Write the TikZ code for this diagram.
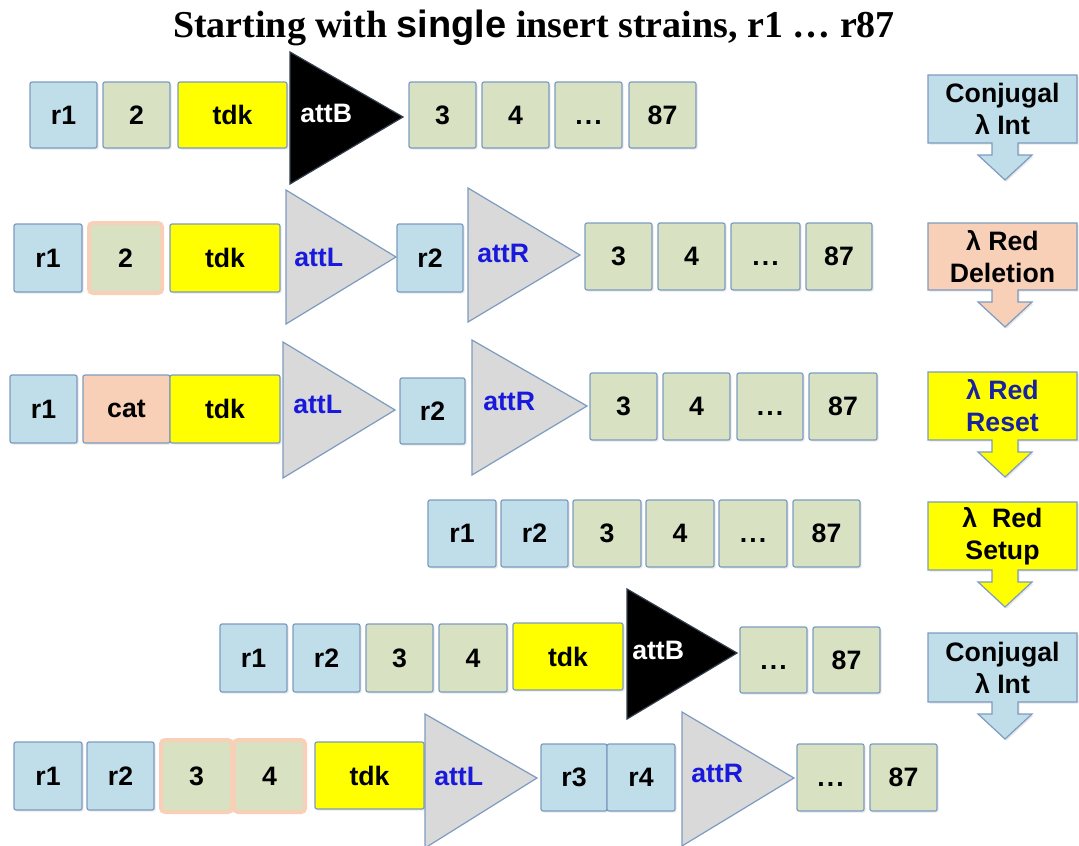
\documentclass[tikz,border=0pt]{standalone}
\usepackage{fontspec}
\setmainfont{Liberation Serif}
\newfontfamily\arialf{Liberation Sans}
\usetikzlibrary{shadows}
\definecolor{bblue}{RGB}{191,222,234}
\definecolor{bgreen}{RGB}{216,226,195}
\definecolor{byellow}{RGB}{255,255,0}
\definecolor{bpeach}{RGB}{248,208,184}
\definecolor{bedge}{RGB}{125,155,192}
\definecolor{tgray}{RGB}{217,217,217}
\definecolor{attblue}{RGB}{25,25,220}
\definecolor{resetblue}{RGB}{25,35,160}
\tikzset{
 lbl/.style={font=\arialf\fontsize{20}{24}\selectfont\bfseries},
 segbox/.style={lbl, draw=bedge, line width=0.9pt, rounded corners=1.5pt, inner sep=0pt,
   drop shadow={shadow xshift=1.2pt, shadow yshift=-1.2pt, opacity=0.18}},
 blu/.style={segbox, fill=bblue},
 grn/.style={segbox, fill=bgreen},
 yel/.style={segbox, fill=byellow},
 pch/.style={segbox, fill=bpeach},
 pgrn/.style={segbox, fill=bgreen, draw=bpeach, line width=3pt, rounded corners=3pt},
 tri/.style={draw=bedge, line width=0.9pt, fill=tgray, line join=miter},
 btri/.style={draw=bedge!40!black, line width=0.9pt, fill=black, line join=miter},
 attl/.style={lbl, text=attblue, anchor=west, inner sep=0pt},
 attw/.style={lbl, text=white, anchor=west, inner sep=0pt},
 callout/.style={draw=bedge, line width=0.9pt, line join=miter,
   drop shadow={shadow xshift=1.2pt, shadow yshift=-1.2pt, opacity=0.18}},
 ctext/.style={lbl, align=center, inner sep=0pt},
}
\newcommand\gseg[7]{\node[#6, minimum width={(#4-#2)*0.75pt}, minimum height={(#5-#3)*0.75pt}] (#1) at ({(#2+#4)/2},{(#3+#5)/2}) {#7};}
\newcommand\gtri[7]{\draw[#7] (#2,#3) coordinate (#1-t) -- (#5,#6) coordinate (#1-p) -- (#2,#4) coordinate (#1-b) -- cycle;}
\newcommand\callout[6]{%
 \draw[callout, fill=#4] (928,#2) -- (1077,#2) -- (1077,#3) -- (1018,#3) -- (1018,#3+12) -- (1032,#3+12)
   -- (1005,#3+37) -- (978,#3+12) -- (992,#3+12) -- (992,#3) -- (928,#3) -- cycle;
 \node[ctext, text=#6] (#1) at (1002.5,{(#2+#3)/2}) {#5};}
\newcommand\dotsx{\vphantom{4}.\kern1.6pt.\kern1.6pt.}
\begin{document}
\begin{tikzpicture}[x=0.75pt,y=-0.75pt]
\useasboundingbox (0,0) rectangle (1079,846);
\node[anchor=base, inner sep=0pt, font=\fontsize{28.5}{30}\selectfont\bfseries] (title) at (534,37)
  {Starting with {\arialf single} insert strains, r1 … r87};
% row 1
\gseg{a1}{30}{82}{97}{148}{blu}{r1}
\gseg{a2}{103}{82}{170}{148}{grn}{2}
\gseg{a3}{178}{82}{287}{148}{yel}{tdk}
\gtri{aB}{290}{52}{184}{403}{117}{btri}
\node[attw] (aBl) at (300,113) {attB};
\gseg{a4}{409}{82}{476}{148}{grn}{3}
\gseg{a5}{482}{82}{549}{148}{grn}{4}
\gseg{a6}{555}{82}{622}{148}{grn}{\dotsx}
\gseg{a7}{629}{82}{696}{148}{grn}{87}
% row 2
\gseg{b1}{14}{224}{82}{292}{blu}{r1}
\gseg{b2}{89}{223}{162}{293}{pgrn}{2}
\gseg{b3}{170}{224}{280}{292}{yel}{tdk}
\gtri{bL}{286}{190}{324}{396}{257}{tri}
\node[attl] (bLl) at (294,257) {attL};
\gseg{b4}{397}{224}{463}{292}{blu}{r2}
\gtri{bR}{468}{188}{322}{580}{255}{tri}
\node[attl] (bRl) at (477,253) {attR};
\gseg{b5}{585}{223}{652}{290}{grn}{3}
\gseg{b6}{658}{223}{725}{290}{grn}{4}
\gseg{b7}{731}{223}{800}{290}{grn}{\dotsx}
\gseg{b8}{806}{223}{872}{290}{grn}{87}
% row 3
\gseg{c1}{10}{375}{77}{443}{blu}{r1}
\gseg{c2}{83}{375}{170}{443}{pch}{cat}
\gseg{c3}{170}{375}{280}{443}{yel}{tdk}
\gtri{cL}{283}{342}{478}{395}{410}{tri}
\node[attl] (cLl) at (293,404) {attL};
\gseg{c4}{400}{378}{465}{444}{blu}{r2}
\gtri{cR}{472}{340}{475}{587}{406}{tri}
\node[attl] (cRl) at (483,401) {attR};
\gseg{c5}{590}{373}{657}{440}{grn}{3}
\gseg{c6}{663}{373}{730}{440}{grn}{4}
\gseg{c7}{737}{373}{803}{440}{grn}{\dotsx}
\gseg{c8}{809}{373}{877}{440}{grn}{87}
% row 4
\gseg{d1}{428}{500}{496}{567}{blu}{r1}
\gseg{d2}{501}{500}{568}{567}{blu}{r2}
\gseg{d3}{573}{500}{641}{567}{grn}{3}
\gseg{d4}{646}{500}{714}{567}{grn}{4}
\gseg{d5}{719}{500}{787}{567}{grn}{\dotsx}
\gseg{d6}{793}{500}{860}{567}{grn}{87}
% row 5
\gseg{e1}{220}{624}{287}{692}{blu}{r1}
\gseg{e2}{293}{624}{360}{692}{blu}{r2}
\gseg{e3}{366}{624}{433}{692}{grn}{3}
\gseg{e4}{439}{624}{507}{692}{grn}{4}
\gseg{e5}{513}{623}{623}{690}{yel}{tdk}
\gtri{eB}{627}{589}{719}{737}{653}{btri}
\node[attw] (eBl) at (632,650) {attB};
\gseg{e6}{740}{627}{807}{693}{grn}{\dotsx}
\gseg{e7}{813}{627}{880}{693}{grn}{87}
% row 6
\gseg{f1}{14}{742}{82}{810}{blu}{r1}
\gseg{f2}{87}{742}{154}{810}{blu}{r2}
\gseg{f3}{161}{740}{232}{812}{pgrn}{3}
\gseg{f4}{234}{740}{305}{812}{pgrn}{4}
\gseg{f5}{315}{742}{424}{809}{yel}{tdk}
\gtri{fL}{425}{714}{848}{537}{778}{tri}
\node[attl] (fLl) at (434,776) {attL};
\gseg{f6}{541}{744}{607}{811}{blu}{r3}
\gseg{f7}{607}{744}{675}{811}{blu}{r4}
\gtri{fR}{682}{712}{846}{794}{778}{tri}
\node[attl] (fRl) at (691,773) {attR};
\gseg{f8}{797}{744}{864}{811}{grn}{\dotsx}
\gseg{f9}{870}{744}{937}{811}{grn}{87}
% process callouts
\callout{k1}{75}{143}{bblue}{Conjugal\\λ Int}{black}
\callout{k2}{223}{290}{bpeach}{λ Red\\Deletion}{black}
\callout{k3}{372}{440}{byellow}{λ Red\\Reset}{resetblue}
\callout{k4}{502}{570}{byellow}{λ\ \ Red\\Setup}{black}
\callout{k5}{633}{702}{bblue}{Conjugal\\λ Int}{black}
\end{tikzpicture}
\end{document}
